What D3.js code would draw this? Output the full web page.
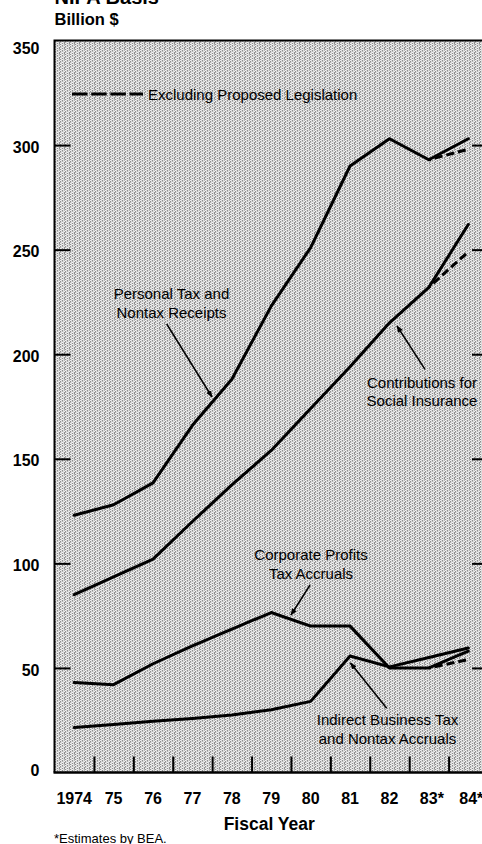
<!DOCTYPE html>
<html><head><meta charset="utf-8">
<script src="https://cdn.jsdelivr.net/npm/d3@7"></script>
<style>html,body{margin:0;padding:0;background:#fff;overflow:hidden}svg{display:block}</style>
</head><body>
<svg id="c" width="482" height="844"></svg>
<script>
// ---------- data ----------
const years = ["1974","1975","1976","1977","1978","1979","1980","1981","1982","1983","1984"];
const yearLabels = ["1974","75","76","77","78","79","80","81","82","83*","84*"];
const yTickValues = [0,50,100,150,200,250,300,350];
const personal      = [123, 128, 138.5, 166, 188, 223, 251, 290, 303, 293, 303];
const contributions = [85, 93.5, 102, 120, 137.5, 154, 174, 194, 215, 232, 262];
const corporate     = [43, 42, 52, 60.5, 68.5, 76.5, 70, 70, 50, 50, 58];
const indirect      = [21.5, 23, 24.5, 25.8, 27.5, 30, 34, 55.7, 50.5, 55, 59.5];
// Excluding proposed legislation (branches from the 1983 estimate)
const exclYears = ["1983","1984"];
const personalExcl      = [293, 298];
const contributionsExcl = [232, 249];
const corporateExcl     = [50, 54];

// ---------- layout ----------
const FONT = "'Liberation Sans', Arial, Helvetica, sans-serif";
const L = 54.5, R = 488, T = 40.5, B = 772.5;
const svg = d3.select("#c");

const x = d3.scaleBand().domain(years).range([L, R]).padding(0);
const xc = d => x(d) + x.bandwidth() / 2;
const y = d3.scaleLinear().domain([0, 350]).range([B, T]);
const edges = d3.scaleLinear().domain([0, years.length]).range([L, R]);

// halftone-like stipple background (fixed 5x5 cell)
const defs = svg.append("defs");
const pat = defs.append("pattern").attr("id","ht").attr("width",5).attr("height",5)
  .attr("patternUnits","userSpaceOnUse");
pat.append("rect").attr("width",5).attr("height",5).attr("fill","#dcdcdc");
const cell = ["w.d.g","d.g.w","g.w.d","w.d.d","d.w.g"]; // texture rows (style only)
const shade = {w:"#f2f2f2", d:"#8e8e8e", g:"#b4b4b4"};
cell.forEach((row,r) => row.split("").forEach((ch,c) => {
  if (shade[ch]) pat.append("rect").attr("x",c).attr("y",r).attr("width",1).attr("height",1).attr("fill",shade[ch]);
}));
defs.append("marker").attr("id","arr").attr("viewBox","0 0 10 10").attr("refX",9).attr("refY",5)
  .attr("markerWidth",7).attr("markerHeight",7).attr("markerUnits","userSpaceOnUse")
  .attr("orient","auto")
  .append("path").attr("d","M0,1 L10,5 L0,9 Z").attr("fill","#000");

svg.append("rect").attr("x",L).attr("y",T).attr("width",R-L).attr("height",B-T).attr("fill","url(#ht)");

// title fragment (cut off at top, as in the source) and unit
svg.append("text").attr("x",L).attr("y",3.5).attr("font-family",FONT).attr("font-weight","bold")
  .attr("font-size",20).text("NIPA Basis");
svg.append("text").attr("x",L).attr("y",25).attr("font-family",FONT).attr("font-weight","bold")
  .attr("font-size",16.5).text("Billion $");

// inner ticks left
const gl = svg.append("g").attr("transform",`translate(${L},0)`)
  .call(d3.axisRight(y).tickValues([50,100,150,200,250,300]).tickSize(16).tickFormat(""));
gl.select(".domain").remove();
gl.selectAll("line").attr("stroke","#000").attr("stroke-width",2);
// inner ticks right
const gr = svg.append("g").attr("transform",`translate(${R},0)`)
  .call(d3.axisLeft(y).tickValues([50,100,150,200,250,300]).tickSize(16).tickFormat(""));
gr.select(".domain").remove();
gr.selectAll("line").attr("stroke","#000").attr("stroke-width",2);
// y labels
const gyl = svg.append("g").attr("transform",`translate(${L},0)`)
  .call(d3.axisLeft(y).tickValues(yTickValues).tickSize(0).tickPadding(15));
gyl.select(".domain").remove();
gyl.selectAll("text").attr("font-family",FONT).attr("font-weight","bold").attr("font-size",16)
  .attr("fill","#000").attr("dy", d => d === 350 ? "12.7" : (d === 0 ? "3.2" : "7.2"));

// x band-edge ticks
const gx = svg.append("g").attr("transform",`translate(0,${B})`)
  .call(d3.axisTop(edges).tickValues(d3.range(1, years.length)).tickSize(16).tickFormat(""));
gx.select(".domain").remove();
gx.selectAll("line").attr("stroke","#000").attr("stroke-width",2);
// x labels
const gxl = svg.append("g").attr("transform",`translate(0,${B})`)
  .call(d3.axisBottom(x).tickSize(0).tickPadding(20).tickFormat((d,i) => yearLabels[i]));
gxl.select(".domain").remove();
gxl.selectAll("text").attr("font-family",FONT).attr("font-weight","bold").attr("font-size",16)
  .attr("fill","#000").attr("dx",(d,i) => yearLabels[i].endsWith("*") ? 3 : 0);

// series lines
const line = d3.line().x(d => xc(d[0])).y(d => y(d[1]));
[personal, contributions, corporate, indirect].forEach(s => {
  svg.append("path").attr("d", line(years.map((yr,i) => [yr, s[i]])))
    .attr("fill","none").attr("stroke","#000").attr("stroke-width",3)
    .attr("stroke-linejoin","round").attr("stroke-linecap","round");
});
[personalExcl, contributionsExcl, corporateExcl].forEach(s => {
  svg.append("path").attr("d", line(exclYears.map((yr,i) => [yr, s[i]])))
    .attr("fill","none").attr("stroke","#000").attr("stroke-width",3)
    .attr("stroke-dasharray","8,4").attr("stroke-dashoffset",-6);
});

// frame
svg.append("path").attr("d",`M${L},${B}V${T}H${R}`).attr("fill","none").attr("stroke","#000").attr("stroke-width",2);
svg.append("line").attr("x1",L-1).attr("x2",R).attr("y1",B).attr("y2",B).attr("stroke","#000").attr("stroke-width",2.5);

// legend
svg.append("line").attr("x1",72).attr("x2",143).attr("y1",94).attr("y2",94)
  .attr("stroke","#000").attr("stroke-width",3).attr("stroke-dasharray","15.5,3.7");
svg.append("text").attr("x",148).attr("y",99.5).attr("font-family",FONT).attr("font-size",15)
  .text("Excluding Proposed Legislation");

// annotations
const notes = [
  {lines:["Personal Tax and","Nontax Receipts"], cx:171.5, by:299.3, from:[166.7,324], to:[212,397]},
  {lines:["Contributions for","Social Insurance"], cx:422, by:387.5, from:[425,369.3], to:[397,326]},
  {lines:["Corporate Profits","Tax Accruals"], cx:311, by:560, from:[310,585], to:[291,615]},
  {lines:["Indirect Business Tax","and Nontax Accruals"], cx:387.5, by:725, from:[386.7,708.3], to:[350.5,663]}
];
notes.forEach(n => {
  n.lines.forEach((t,i) => {
    svg.append("text").attr("x",n.cx).attr("y",n.by + i*18.6).attr("text-anchor","middle")
      .attr("font-family",FONT).attr("font-size",15).text(t);
  });
  svg.append("line").attr("x1",n.from[0]).attr("y1",n.from[1]).attr("x2",n.to[0]).attr("y2",n.to[1])
    .attr("stroke","#000").attr("stroke-width",1.5).attr("marker-end","url(#arr)");
});

// axis title and footnote
svg.append("text").attr("x",(L+R)/2 - 2).attr("y",830).attr("text-anchor","middle")
  .attr("font-family",FONT).attr("font-weight","bold").attr("font-size",17.5).text("Fiscal Year");
svg.append("text").attr("x",54).attr("y",842.5).attr("font-family",FONT).attr("font-size",13)
  .text("*Estimates by BEA.");
</script>
</body></html>
